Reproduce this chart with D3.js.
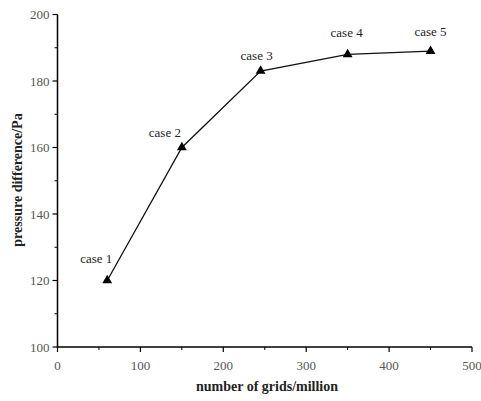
<!DOCTYPE html>
<html><head><meta charset="utf-8">
<script src="https://cdn.jsdelivr.net/npm/d3@7"></script>
<style>body{margin:0;background:#fff}svg{display:block}</style>
</head><body>
<script>
const grids = [60, 150, 245, 350, 450];
const pressure = [120, 160, 183, 188, 189];
const caseLabels = ["case 1", "case 2", "case 3", "case 4", "case 5"];
const xTicks = [0, 100, 200, 300, 400, 500];
const yTicks = [100, 120, 140, 160, 180, 200];

const W = 481, H = 401;
const svg = d3.select("body").append("svg").attr("width", W).attr("height", H);
const x = d3.scaleLinear().domain([0, 500]).range([57.5, 472]);
const y = d3.scaleLinear().domain([100, 200]).range([347, 14.5]);
const font = "'Liberation Serif', 'Times New Roman', serif";

// x axis
const gx = svg.append("g").attr("transform", `translate(0,${y(100)})`);
gx.append("line").attr("x1", x(0)).attr("x2", x(500)).attr("stroke", "#000").attr("stroke-width", 1.5);
gx.selectAll(".mj").data(xTicks).join("line").attr("x1", d => x(d)).attr("x2", d => x(d)).attr("y1", 0).attr("y2", 5).attr("stroke", "#000").attr("stroke-width", 1.2);
gx.selectAll(".mn").data(d3.range(50, 500, 100)).join("line").attr("x1", d => x(d)).attr("x2", d => x(d)).attr("y1", 0).attr("y2", 3).attr("stroke", "#000").attr("stroke-width", 1);
gx.selectAll("text").data(xTicks).join("text").attr("x", d => x(d)).attr("y", 23).attr("text-anchor", "middle")
  .attr("font-family", font).attr("font-size", 13).attr("fill", "#555").text(d => d);

// y axis
const gy = svg.append("g").attr("transform", `translate(${x(0)},0)`);
gy.append("line").attr("y1", y(100)).attr("y2", y(200)).attr("stroke", "#000").attr("stroke-width", 1.5);
gy.selectAll(".mj").data(yTicks).join("line").attr("y1", d => y(d)).attr("y2", d => y(d)).attr("x1", 0).attr("x2", -5).attr("stroke", "#000").attr("stroke-width", 1.2);
gy.selectAll(".mn").data(d3.range(110, 200, 20)).join("line").attr("y1", d => y(d)).attr("y2", d => y(d)).attr("x1", 0).attr("x2", -3).attr("stroke", "#000").attr("stroke-width", 1);
gy.selectAll("text").data(yTicks).join("text").attr("x", -8).attr("y", d => y(d) + 4.5).attr("text-anchor", "end")
  .attr("font-family", font).attr("font-size", 13).attr("fill", "#555").text(d => d);

// titles
svg.append("text").attr("x", 267).attr("y", 391).attr("text-anchor", "middle")
  .attr("font-family", font).attr("font-size", 14).attr("font-weight", "bold").attr("fill", "#222").text("number of grids/million");
svg.append("text").attr("transform", `translate(22,${180}) rotate(-90)`).attr("text-anchor", "middle")
  .attr("font-family", font).attr("font-size", 14).attr("font-weight", "bold").attr("fill", "#222").text("pressure difference/Pa");

// line
const pts = grids.map((g, i) => [g, pressure[i]]);
svg.append("path").datum(pts).attr("fill", "none").attr("stroke", "#111").attr("stroke-width", 1.3)
  .attr("d", d3.line().x(d => x(d[0])).y(d => y(d[1])));
svg.selectAll(".m").data(pts).join("path").attr("fill", "#000")
  .attr("transform", d => `translate(${x(d[0])},${y(d[1])})`)
  .attr("d", d3.symbol(d3.symbolTriangle, 42));

// labels
const lblDx = [-11, -17, -4, -1, 0];
const lblDy = [-18, -11, -11, -17, -15];
svg.selectAll(".lbl").data(pts).join("text").attr("x", (d, i) => x(d[0]) + lblDx[i]).attr("y", (d, i) => y(d[1]) + lblDy[i])
  .attr("text-anchor", "middle").attr("font-family", font).attr("font-size", 13).attr("fill", "#222")
  .text((d, i) => caseLabels[i]);
</script>
</body></html>
